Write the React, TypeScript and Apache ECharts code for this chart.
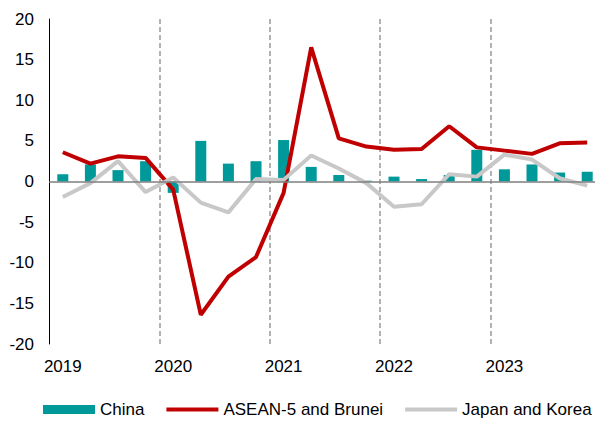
import React, { useEffect, useRef } from "react";
import * as echarts from "echarts";

const quarters = [
  "2019Q1", "2019Q2", "2019Q3", "2019Q4",
  "2020Q1", "2020Q2", "2020Q3", "2020Q4",
  "2021Q1", "2021Q2", "2021Q3", "2021Q4",
  "2022Q1", "2022Q2", "2022Q3", "2022Q4",
  "2023Q1", "2023Q2", "2023Q3", "2023Q4",
];
const china = [0.9, 2.1, 1.4, 2.5, -1.4, 5.0, 2.2, 2.5, 5.1, 1.8, 0.8, 0.1, 0.6, 0.3, 0.8, 3.9, 1.5, 2.1, 1.1, 1.2];
const asean = [3.6, 2.2, 3.1, 2.9, -1.0, -16.4, -11.7, -9.3, -1.4, 16.5, 5.3, 4.3, 3.9, 4.0, 6.8, 4.2, 3.8, 3.4, 4.7, 4.8];
const japanKorea = [-1.9, -0.2, 2.5, -1.3, 0.5, -2.6, -3.8, 0.3, 0.2, 3.2, 1.6, -0.2, -3.1, -2.8, 0.9, 0.6, 3.3, 2.7, 0.4, -0.5];
const yTicks = { min: -20, max: 20, interval: 5 };

export default function App() {
  const ref = useRef<HTMLDivElement>(null);
  useEffect(() => {
    if (!ref.current) return;
    const chart = echarts.init(ref.current, undefined, { renderer: "svg" });
    const font = "Liberation Sans, Arial, sans-serif";
    chart.setOption({
      animation: false,
      textStyle: { fontFamily: font },
      grid: { left: 49, top: 19, width: 552, height: 325, outerBoundsMode: "none", containLabel: false },
      legend: {
        left: 43,
        top: 401,
        width: 560,
        padding: 0,
        itemWidth: 52,
        itemHeight: 9,
        itemGap: 20,
        itemTextGap: 5,
        textStyle: { fontSize: 17, color: "#000", fontFamily: font },
        data: [
          { name: "China", icon: "rect" },
          { name: "ASEAN-5 and Brunei", itemStyle: { opacity: 0 }, lineStyle: { width: 4 } },
          { name: "Japan and Korea", itemStyle: { opacity: 0 }, lineStyle: { width: 4 } },
        ],
      },
      xAxis: {
        type: "category",
        data: quarters,
        boundaryGap: true,
        axisLine: { show: false },
        axisTick: { show: false },
        axisLabel: {
          interval: (i: number) => i % 4 === 0,
          formatter: (v: string) => v.slice(0, 4),
          fontSize: 17,
          color: "#000",
          margin: 14,
          fontFamily: font,
        },
        splitLine: {
          show: true,
          interval: (i: number) => i > 0 && i % 4 === 0,
          lineStyle: { color: "#999999", width: 1.5, type: [5, 3] },
        },
      },
      yAxis: {
        type: "value",
        min: yTicks.min,
        max: yTicks.max,
        interval: yTicks.interval,
        axisLine: { show: true, lineStyle: { color: "#000", width: 1 } },
        axisTick: { show: false },
        splitLine: { show: false },
        axisLabel: { fontSize: 17, color: "#000", margin: 15, fontFamily: font },
      },
      series: [
        {
          name: "China",
          type: "bar",
          data: china,
          barWidth: 11,
          itemStyle: { color: "#009999" },
          markLine: {
            silent: true,
            symbol: "none",
            label: { show: false },
            lineStyle: { color: "#7f7f7f", width: 1.5, type: "solid" },
            data: [{ yAxis: 0 }],
          },
        },
        {
          name: "ASEAN-5 and Brunei",
          type: "line",
          data: asean,
          symbol: "none",
          lineStyle: { color: "#C00000", width: 4 },
          itemStyle: { color: "#C00000" },
        },
        {
          name: "Japan and Korea",
          type: "line",
          data: japanKorea,
          symbol: "none",
          lineStyle: { color: "#C8C8C8", width: 4 },
          itemStyle: { color: "#C8C8C8" },
        },
      ],
    });
    return () => chart.dispose();
  }, []);
  return (
    <div
      ref={ref}
      style={{ position: "fixed", left: 0, top: 0, width: 595, height: 421, background: "#fff" }}
    />
  );
}
